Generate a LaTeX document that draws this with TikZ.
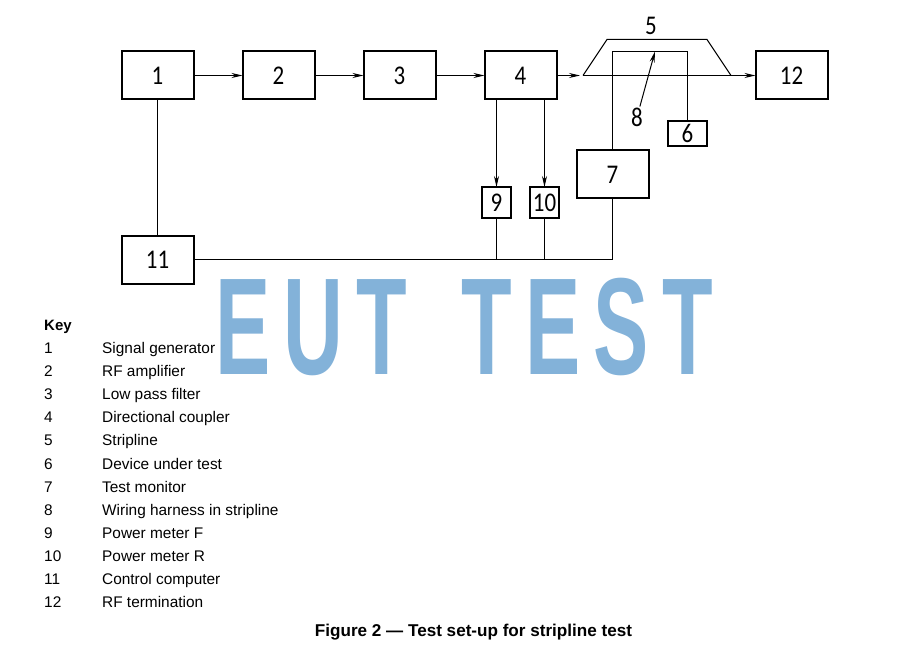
\documentclass[tikz,border=0pt]{standalone}
\usepackage{fontspec}
\setmainfont{Liberation Sans}
\newfontfamily\digitfont[FakeStretch=0.85]{Carlito}
\newfontfamily\markfont[LetterSpace=16]{Liberation Sans}
\usetikzlibrary{positioning, arrows.meta}
\definecolor{markblue}{HTML}{83B2D9}

\tikzset{
  block/.style={draw, line width=2pt, inner sep=0pt, outer sep=0pt, minimum width=72pt, minimum height=48pt, font=\digitfont\fontsize{27}{27}\selectfont},
  smallblock/.style={block, minimum width=29pt, minimum height=31pt},
  tag/.style={inner sep=1pt, font=\digitfont\fontsize{27}{27}\selectfont},
  wire/.style={line width=1pt},
  flow/.style={wire, -{Stealth[length=11pt, width=5pt]}},
  keyno/.style={anchor=base west, inner sep=0pt, font=\fontsize{15.4}{15.4}\selectfont},
}

\begin{document}
\begin{tikzpicture}[x=1pt, y=1pt]
  \useasboundingbox (0,0) rectangle (910,-655);

  \node[text=markblue, font=\markfont\bfseries\fontsize{138}{138}\selectfont, inner sep=0pt, xscale=0.6] (mark) at (464,-327) {EUT\hspace{30pt} TEST};

  \node[block]  (b1)  at (157.5,-75.5)  {1};
  \node[block, right = 49pt of b1]  (b2)  {2};
  \node[block, right = 49pt of b2]  (b3)  {3};
  \node[block, right = 49pt of b3]  (b4)  {4};
  \node[block]  (b12)  at (791.5,-75.5)  {12};
  \node[block]  (b11)  at (157.5,-259.5)  {11};
  \node[block]  (b7)  at (612.5,-174.5)  {7};
  \node[smallblock]  (b9)  at (496.5,-202.5)  {9};
  \node[smallblock]  (b10)  at (544.5,-202.5)  {10};
  \node[smallblock, minimum width=39pt, minimum height=25pt]  (b6)  at (687.5,-133.5)  {6};

  \node[tag]  (l5)  at (651,-26)  {5};
  \node[tag]  (l8)  at (637,-117)  {8};

  \coordinate (ain) at (580,-75.5);
  \coordinate (sl) at (583,-75.5);
  \coordinate (sr) at (731,-75.5);
  \coordinate (tl) at (607,-39.5);
  \coordinate (tr) at (707,-39.5);
  \coordinate (hl) at (612.5,-51.5);
  \coordinate (hr) at (687.5,-51.5);
  \coordinate (h8) at (655,-51.5);

  \draw[flow] (b1) -- (b2);
  \draw[flow] (b2) -- (b3);
  \draw[flow] (b3) -- (b4);
  \draw[flow] (b4) -- (ain);
  \draw[wire] (sl) -- (sr);
  \draw[flow] (sr) -- (b12);
  \draw[wire] (sl) -- (tl) -- (tr) -- (sr);
  \draw[wire] (b7) -- (hl) -- (hr) -- (b6);
  \draw[flow] (l8) -- (h8);
  \draw[wire] (b1) -- (b11);
  \draw[flow] (b9 |- b4.south) -- (b9);
  \draw[flow] (b10 |- b4.south) -- (b10);
  \draw[wire] (b11) -| (b7);
  \draw[wire] (b9) -- (b9 |- b11);
  \draw[wire] (b10) -- (b10 |- b11);

  \node[keyno, font=\bfseries\fontsize{15}{15}\selectfont]  (key)  at (44,-330)  {Key};
  \node[keyno]  (n1)  at (44,-353)  {1};
  \node[keyno]  (n2)  at (44,-376)  {2};
  \node[keyno]  (n3)  at (44,-399)  {3};
  \node[keyno]  (n4)  at (44,-422)  {4};
  \node[keyno]  (n5)  at (44,-445)  {5};
  \node[keyno]  (n6)  at (44,-469)  {6};
  \node[keyno]  (n7)  at (44,-492)  {7};
  \node[keyno]  (n8)  at (44,-515)  {8};
  \node[keyno]  (n9)  at (44,-538)  {9};
  \node[keyno]  (n10)  at (44,-561)  {10};
  \node[keyno]  (n11)  at (44,-584)  {11};
  \node[keyno]  (n12)  at (44,-607)  {12};
  \node[keyno]  (t1)  at (102,-353)  {Signal generator};
  \node[keyno]  (t2)  at (102,-376)  {RF amplifier};
  \node[keyno]  (t3)  at (102,-399)  {Low pass filter};
  \node[keyno]  (t4)  at (102,-422)  {Directional coupler};
  \node[keyno]  (t5)  at (102,-445)  {Stripline};
  \node[keyno]  (t6)  at (102,-469)  {Device under test};
  \node[keyno]  (t7)  at (102,-492)  {Test monitor};
  \node[keyno]  (t8)  at (102,-515)  {Wiring harness in stripline};
  \node[keyno]  (t9)  at (102,-538)  {Power meter F};
  \node[keyno]  (t10)  at (102,-561)  {Power meter R};
  \node[keyno]  (t11)  at (102,-584)  {Control computer};
  \node[keyno]  (t12)  at (102,-607)  {RF termination};
  \node[anchor=base, inner sep=0pt, font=\bfseries\fontsize{17.1}{17.1}\selectfont]  (cap)  at (473.5,-636)  {Figure 2 — Test set-up for stripline test};
\end{tikzpicture}
\end{document}
